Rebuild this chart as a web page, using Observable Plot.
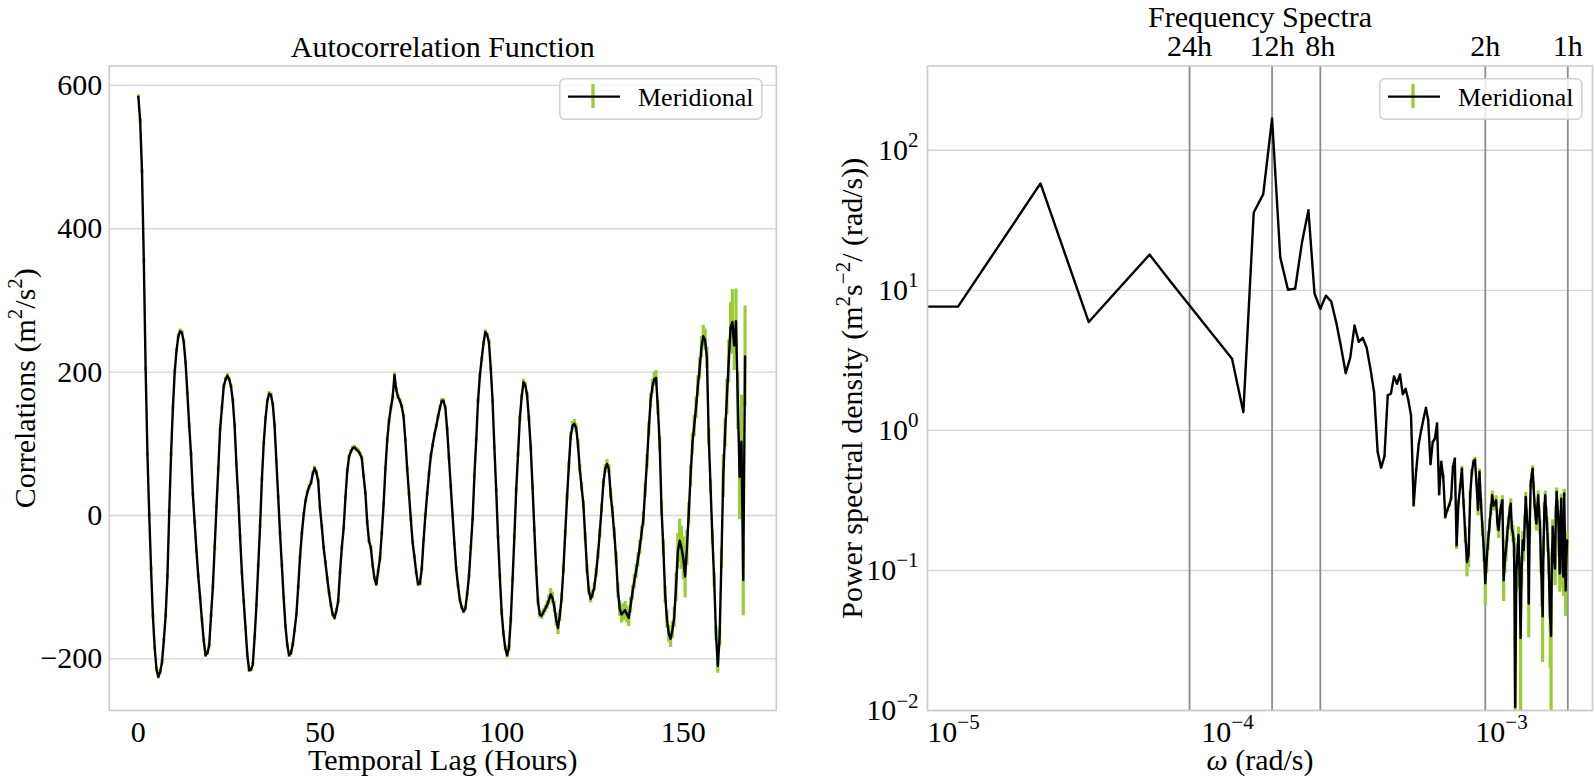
<!DOCTYPE html>
<html><head><meta charset="utf-8">
<script src="https://cdn.jsdelivr.net/npm/d3@7"></script>
<script src="https://cdn.jsdelivr.net/npm/@observablehq/plot@0.6"></script>
<style>
body{margin:0;background:#fff;}
#wrap{position:relative;width:1594px;height:778px;overflow:hidden;background:#fff;}
#wrap > svg{position:absolute;top:0;}
.leg{position:absolute;}
</style></head><body><div id="wrap"></div><script>
// ---------------- DATA ----------------
// Autocorrelation (m^2/s^2), lags every 0.5 h from 0 to 167 h
const lagStepHours = 0.5;
const acfValues = [
 584,550,480,355,205,85,0,-75,-140,-185,-215,-225,-218,-205,-175,-140,-85,5,85,150,
 200,230,250,257,255,242,213,170,125,85,30,-10,-50,-85,-115,-146,-175,-195,-192,-181,
 -140,-100,-45,12,65,120,150,180,190,195,190,180,160,125,70,25,-30,-80,-120,-157,
 -195,-216,-215,-208,-170,-125,-70,-15,50,100,135,160,170,168,155,125,75,25,-25,-70,
 -115,-155,-181,-195,-192,-180,-160,-138,-100,-58,-25,1,20,32,40,45,58,66,60,48,
 10,-16,-45,-66,-88,-108,-125,-138,-143,-133,-120,-80,-45,-18,25,62,82,89,94,95,
 92,90,86,80,55,31,-10,-36,-45,-70,-88,-96,-78,-60,-25,15,65,105,132,150,
 165,196,175,165,160,152,138,105,65,30,-5,-38,-58,-80,-96,-95,-75,-35,0,30,
 58,83,98,113,125,138,150,160,160,150,120,80,40,0,-40,-75,-98,-118,-128,-134,
 -130,-110,-85,-45,-5,55,105,160,195,218,240,256,252,242,205,160,95,35,-30,-85,
 -135,-165,-185,-195,-185,-146,-90,-30,35,85,135,165,186,182,168,135,95,40,-20,-75,
 -120,-138,-140,-135,-130,-125,-118,-110,-115,-128,-145,-157,-140,-115,-75,-25,25,70,110,125,
 128,122,100,65,40,15,-30,-75,-105,-116,-110,-100,-80,-55,-25,10,45,65,72,65,
 30,5,-25,-60,-105,-130,-138,-135,-132,-138,-143,-125,-108,-92,-78,-62,-45,-25,-5,35,
 75,120,160,180,190,192,150,100,10,-45,-110,-145,-165,-172,-160,-142,-100,-50,-35,-45,
 -60,-85,-45,3,55,100,125,150,180,205,235,250,245,220,110,40,-30,-90,-165,-210,
 -170,-60,55,115,165,215,262,270,237,271,160,54,103,-90,222
];
const acfErrors = [
 3,3,3,3,3,3,3,3,3,3,3,3,3,3,3,3,3,3,3,3,
 3,3,3,3,3,3,3,3,3,3,3,3,3,3,3,3,3,3,3,3,
 3,3,3,3,3,3,3,3,3,3,3,3,3,3,3,3,3,3,3,3,
 3,3,3,3,3,3,3,3,3,3,3,3,3,3,3,3,3,3,3,3,
 3,3,3,3,3,3,3,3,3,3,3,3,3,3,3,3,3,3,3,3,
 3,3,3,3,3,3,3,3,3,3,3,3,3,3,3,3,3,3,3,3,
 3,3,3,3,3,3,3,3,3,3,3,3,3,3,3,3,3,3,3,3,
 3,3,3,3,3,3,3,3,3,3,3,3,3,3,3,3,3,3,3,3,
 3,3,3,3,3,3,3,3,3,3,3,3,3,3,3,3,3,3,3,3,
 3,3,3,3,3,3,3,3,3,3,3,3,3,3,3,3,3,3,3,3,
 4,4,4,4,4,4,4,4,4,4,4,4,4,4,4,4,4,4,4,4,
 5,5,5,5,5,6,7,8,8,8,9,9,8,7,6,5,5,5,6,6,
 6,6,6,6,6,6,6,6,6,6,6,6,6,6,6,6,6,6,6,6,
 8,8,8,9,10,11,12,12,12,12,12,11,10,10,10,10,10,10,10,10,
 10,10,10,10,10,10,10,10,10,11,12,12,12,12,12,14,20,25,30,30,
 30,30,25,15,15,15,15,15,15,15,15,15,15,15,12,10,10,10,10,10,
 12,15,30,20,25,30,35,45,35,45,40,60,65,50,70
];
const acfXTicks = [0, 50, 100, 150];
const acfYTicks = [-200, 0, 200, 400, 600];

// Power spectral density, harmonics n = 1..167 of a 168 h record
const recordHours = 168;
const psdLeadFrequency = 7.0e-6;   // first plotted point (left edge)
const psdLeadValue = 7.65;
const psdValues = [
 7.65,58.0,5.94,11.1,18.0,11.4,7.8,5.62,4.21,3.25,
 1.35,36.0,48.7,169,17.2,10.1,10.3,22.0,37.4,9.5,
 7.37,9.17,8.35,5.91,3.92,2.56,3.31,5.61,4.29,4.58,
 3.89,2.75,1.87,0.70,0.542,0.653,1.78,1.83,2.43,2.15,
 2.51,1.81,1.98,1.64,1.28,0.292,0.519,0.80,1.0,1.21,
 1.45,1.18,0.572,0.826,0.872,1.12,0.350,0.595,0.465,0.241,
 0.269,0.292,0.326,0.548,0.628,0.151,0.30,0.394,0.533,0.30,
 0.18,0.115,0.13,0.35,0.50,0.595,0.618,0.42,0.27,0.505,
 0.30,0.20,0.14,0.081,0.12,0.164,0.21,0.27,0.344,0.29,
 0.30,0.317,0.216,0.194,0.25,0.292,0.317,0.085,0.12,0.14,
 0.183,0.22,0.262,0.30,0.20,0.183,0.147,0.0106,0.095,0.13,
 0.179,0.10,0.033,0.10,0.164,0.140,0.22,0.335,0.25,0.194,
 0.058,0.20,0.417,0.47,0.533,0.40,0.30,0.25,0.216,0.28,
 0.344,0.26,0.205,0.12,0.08,0.047,0.15,0.28,0.344,0.26,
 0.216,0.16,0.118,0.07,0.045,0.034,0.11,0.205,0.15,0.12,
 0.103,0.26,0.363,0.29,0.241,0.15,0.095,0.22,0.326,0.18,
 0.10,0.090,0.355,0.16,0.072,0.12,0.164
];
const psdErrors = [
 0.01,0.01,0.01,0.01,0.01,0.01,0.01,0.01,0.01,0.01,
 0.01,0.01,0.01,0.01,0.01,0.01,0.01,0.01,0.01,0.01,
 0.01,0.01,0.01,0.01,0.01,0.01,0.01,0.01,0.01,0.01,
 0.01,0.01,0.01,0.01,0.01,0.01,0.01,0.01,0.01,0.01,
 0.01,0.01,0.01,0.01,0.01,0.01,0.01,0.01,0.01,0.01,
 0.01,0.01,0.01,0.01,0.01,0.01,0.01,0.01,0.01,0.01,
 0.01,0.01,0.01,0.01,0.01,0.01,0.015,0.018,0.02,0.022,
 0.024,0.025,0.025,0.025,0.025,0.025,0.025,0.025,0.025,0.025,
 0.025,0.025,0.025,0.025,0.025,0.025,0.025,0.025,0.025,0.025,
 0.025,0.025,0.025,0.025,0.025,0.025,0.025,0.025,0.025,0.025,
 0.025,0.025,0.025,0.025,0.025,0.025,0.025,0.025,0.025,0.025,
 0.025,0.025,0.025,0.025,0.025,0.025,0.025,0.025,0.025,0.025,
 0.025,0.025,0.025,0.025,0.025,0.025,0.025,0.025,0.025,0.025,
 0.025,0.025,0.025,0.025,0.025,0.025,0.025,0.025,0.025,0.025,
 0.025,0.025,0.025,0.025,0.025,0.025,0.025,0.025,0.025,0.025,
 0.025,0.025,0.025,0.025,0.025,0.025,0.025,0.025,0.025,0.025,
 0.025,0.025,0.025,0.025,0.025,0.025,0.025
];
const periodHours = [24, 12, 8, 2, 1];
const periodLabels = ["24h", "12h", "8h", "2h", "1h"];
const psdXTicks = [1e-5, 1e-4, 1e-3];
const psdYTicks = [1e-2, 1e-1, 1e0, 1e1, 1e2];
const seriesName = "Meridional";

// ---------------- BUILD ----------------
const FONT = "Liberation Serif, Times New Roman, serif";
const FS = 30;
const GREEN = "#9acd32";
const GRID = "#d6d6d6";
const FRAME = "#cccccc";

const acfData = acfValues.map((v, i) => ({lag: i * lagStepHours, v, e: acfErrors[i]}));
const dOmega = 2 * Math.PI / (recordHours * 3600);
const psdData = [{w: psdLeadFrequency, v: psdLeadValue, e: 0}]
  .concat(psdValues.map((v, i) => ({w: (i + 1) * dOmega, v, e: psdErrors[i]})));
const periods = periodHours.map((h, i) => ({w: 2 * Math.PI / (h * 3600), label: periodLabels[i]}));
const expFmt = d => "10^{" + String(Math.round(Math.log10(d))).replace("-", "\u2212") + "}";

const style = {fontFamily: FONT, fontSize: FS + "px", color: "#000", background: "transparent", overflow: "visible"};
const T = {fontFamily: FONT, fontSize: FS, fill: "#000"};
const label = (txt, opts) => Plot.text([txt], {text: d => d, textAnchor: "middle", lineAnchor: "middle", ...T, ...opts});

const left = Plot.plot({
  width: 800, height: 778,
  marginLeft: 108.8, marginRight: 24.2, marginTop: 65.5, marginBottom: 68,
  style,
  x: {domain: [-8.0, 175.6]},
  y: {domain: [-272, 627]},
  marks: [
    Plot.gridY(acfYTicks, {stroke: GRID, strokeOpacity: 1, strokeWidth: 1.4}),
    Plot.ruleX(acfData, {x: "lag", y1: d => d.v - d.e, y2: d => d.v + d.e, stroke: GREEN, strokeWidth: 3.2, clip: true}),
    Plot.line(acfData, {x: "lag", y: "v", stroke: "#000", strokeWidth: 2.4, clip: true}),
    Plot.frame({stroke: FRAME, strokeWidth: 1.6}),
    Plot.axisX(acfXTicks, {tickSize: 0, tickPadding: 10, label: null, ...T}),
    Plot.axisY(acfYTicks, {tickSize: 0, tickPadding: 7, label: null, ...T}),
    label("Autocorrelation Function", {frameAnchor: "top", dy: -18.7}),
    label("Temporal Lag (Hours)", {frameAnchor: "bottom", dy: 50}),
    label("Correlations (m^{2}/s^{2})", {frameAnchor: "left", dx: -84.4, rotate: -90})
  ]
});

const right = Plot.plot({
  width: 774, height: 778,
  marginLeft: 107, marginRight: 2, marginTop: 65.5, marginBottom: 68,
  style,
  x: {type: "log", domain: [8.04e-6, 2.148e-3]},
  y: {type: "log", domain: [0.01, 400]},
  marks: [
    Plot.gridY(psdYTicks, {stroke: GRID, strokeOpacity: 1, strokeWidth: 1.4}),
    Plot.ruleX(periods, {x: "w", stroke: "#8c8c8c", strokeWidth: 1.8}),
    Plot.ruleX(psdData, {x: "w", y1: d => Math.max(d.v - d.e, 1e-5), y2: d => d.v + d.e, stroke: GREEN, strokeWidth: 3.2, clip: true}),
    Plot.line(psdData, {x: "w", y: "v", stroke: "#000", strokeWidth: 2.4, clip: true}),
    Plot.frame({stroke: FRAME, strokeWidth: 1.6}),
    Plot.axisX(psdXTicks, {tickSize: 0, tickPadding: 10, tickFormat: expFmt, label: null, ...T}),
    Plot.text(periods, {x: "w", text: "label", frameAnchor: "top", dy: -19.6, textAnchor: "middle", lineAnchor: "middle", ...T}),
    Plot.axisY(psdYTicks, {tickSize: 0, tickPadding: 9, tickFormat: expFmt, label: null, ...T}),
    label("Frequency Spectra", {frameAnchor: "top", dy: -48.2}),
    label("_{ω} (rad/s)", {frameAnchor: "bottom", dy: 50}),
    label("Power spectral density (m^{2}s^{\u22122}/ (rad/s))", {frameAnchor: "left", dx: -75, rotate: -90})
  ]
});

function richify(svg) {
  const NS = "http://www.w3.org/2000/svg";
  svg.querySelectorAll("text").forEach(t => {
    const s = t.textContent;
    if (!/[\^_]\{/.test(s)) return;
    while (t.firstChild) t.removeChild(t.firstChild);
    const re = /\^\{([^}]*)\}|_\{([^}]*)\}|([^\^_]+)/g;
    let m, shift = 0;
    while ((m = re.exec(s))) {
      const ts = document.createElementNS(NS, "tspan");
      if (m[1] !== undefined) {
        ts.textContent = m[1];
        ts.setAttribute("font-size", (0.7 * FS) + "px");
        ts.setAttribute("dy", (-0.42 * FS) + "px");
        shift = 0.42 * FS;
      } else {
        ts.textContent = m[2] !== undefined ? m[2] : m[3];
        if (m[2] !== undefined) ts.setAttribute("font-style", "italic");
        if (shift) { ts.setAttribute("dy", shift + "px"); shift = 0; }
      }
      t.appendChild(ts);
    }
  });
}
richify(left); richify(right);

const wrap = document.getElementById("wrap");
left.style.left = "0px";
right.style.left = "820px";
wrap.appendChild(left);
wrap.appendChild(right);

function legend(x) {
  const d = document.createElement("div");
  d.className = "leg";
  d.style.left = x + "px";
  d.style.top = "78px";
  d.innerHTML = `<svg width="205" height="43" style="overflow:visible">
    <rect x="0.8" y="0.8" width="202" height="40.5" rx="5" ry="5" fill="rgba(255,255,255,0.8)" stroke="#d0d0d0" stroke-width="1.5"/>
    <line x1="34" y1="6" x2="34" y2="30" stroke="${GREEN}" stroke-width="3.3"/>
    <line x1="9" y1="18.6" x2="61" y2="18.6" stroke="#000" stroke-width="2.3"/>
    <text x="79" y="27.5" font-family="${FONT}" font-size="26px" fill="#000">${seriesName}</text>
  </svg>`;
  wrap.appendChild(d);
}
legend(559.3);
legend(1378.5);
</script></body></html>
